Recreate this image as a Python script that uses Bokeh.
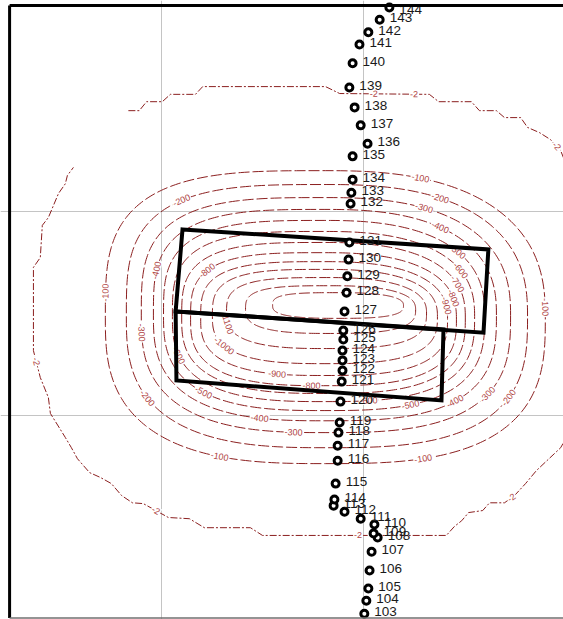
import numpy as np
from bokeh.plotting import figure
from bokeh.models import Range1d, FixedTicker, ColumnDataSource
from bokeh.core.properties import value
from bokeh.embed import file_html
from bokeh.resources import INLINE

# ---------------- data (plan coordinates, m) ----------------
station_ids = [103, 104, 105, 106, 107, 108, 109, 110, 111, 112, 113, 114, 115, 116,
               117, 118, 119, 120, 121, 122, 123, 124, 125, 126, 127, 128, 129, 130,
               131, 132, 133, 134, 135, 136, 137, 138, 139, 140, 141, 142, 143, 144]
station_x = [50.2, 50.7, 51.2, 51.5, 52.0, 53.5, 52.5, 52.7, 49.3, 45.3, 42.6, 42.8, 43.1, 43.6,
             43.6, 43.8, 44.1, 44.3, 44.6, 44.8, 44.8, 44.8, 45.0, 45.0, 45.3, 45.8, 46.0, 46.3,
             46.5, 46.8, 47.0, 47.3, 47.3, 51.0, 49.3, 47.8, 46.5, 47.3, 49.0, 51.2, 54.0, 56.4]
station_y = [-48.7, -45.5, -42.5, -38.1, -33.5, -30.0, -29.0, -26.8, -25.4, -23.7, -22.2, -20.7, -16.8, -11.2,
             -7.5, -4.3, -1.8, 3.3, 8.2, 10.9, 13.4, 15.8, 18.5, 20.7, 25.4, 30.0, 34.0, 38.1,
             42.3, 51.8, 54.5, 57.7, 63.4, 66.5, 71.0, 75.4, 80.3, 86.2, 90.8, 93.8, 96.9, 99.9]

# footprint outlines (corner points)
footing_a_x = [5.2, 80.9, 79.7, 3.5]
footing_a_y = [45.5, 40.6, 20.2, 25.4]
footing_b_x = [3.5, 69.8, 69.3, 3.7]
footing_b_y = [25.4, 21.0, 3.6, 8.5]

# settlement contour levels and their extents
levels = [-100, -200, -300, -400, -500, -600, -700, -800, -900, -1000, -1100, -1200, -1300]
level_left = [-13.9, -8.7, -5.0, -2.0, 0.5, 2.7, 5.0, 7.2, 9.7, 12.6, 16.1, 20.8, 27.5]
level_right = [95.0, 90.6, 86.4, 82.9, 80.0, 77.5, 75.2, 73.0, 70.8, 68.3, 65.6, 62.9, 59.9]
level_top = [59.9, 56.5, 53.3, 50.4, 47.7, 45.0, 42.3, 39.8, 37.6, 35.7, 33.7, 31.7, 30.0]
level_bottom = [-11.9, -8.0, -4.3, -1.4, 1.1, 3.3, 5.3, 7.2, 9.7, 12.6, 16.3, 20.0, 23.7]

# outermost (-2) contour traced as a line
outer_level = -2
outer_x = [-8.2, -5.5, -3.7, 0.2, 2.2, 8.4, 10.2, 40.6, 44.1, 66.3, 68.6, 76.7, 78.7, 82.9,
           84.9, 88.9, 90.6, 93.6, 96.3, 98.8, 103.7, 105.0, 102.5, 98.8, 97.3, 92.8, 90.1,
           87.4, 84.9, 81.2, 79.5, 76.0, 74.3, 72.5, 70.5, 25.0, 22.0, 10.6, 6.9, 1.7, -4.5,
           -7.2, -9.9, -12.4, -15.1, -17.8, -20.8, -22.3, -23.8, -27.5, -28.0, -30.0, -31.7,
           -31.7, -30.0, -29.5, -28.0, -25.5, -23.8, -23.3, -21.8]
outer_y = [74.6, 74.6, 76.8, 76.8, 78.6, 78.6, 80.5, 80.5, 78.8, 78.6, 76.8, 76.8, 74.6, 74.6,
           72.9, 72.9, 70.5, 69.2, 67.5, 64.8, 52.6, 28.1, -1.4, -8.0, -9.4, -13.6, -16.8,
           -19.7, -21.5, -21.5, -23.4, -23.9, -25.9, -27.3, -29.5, -29.5, -27.6, -27.6, -25.4, -25.1, -21.7,
           -21.5, -19.7, -16.8, -15.3, -14.1, -10.7, -8.0, -5.5, 0.4, 4.3, 9.2, 15.8,
           36.2, 38.6, 46.5, 48.4, 54.3, 56.7, 58.7, 60.7]

# ---------------- styling constants ----------------
W, H = 563, 619
X0, X1 = -39.85, 99.5
Y0, Y1 = -50.1, 101.6
SX = W / (X1 - X0)
SY = H / (Y1 - Y0)
FRAME_LEFT, FRAME_TOP, FRAME_BOTTOM = -37.6, 100.4, -49.75
CONTOUR_COLOR = "#8b1f1f"
LABEL_COLOR = "#b04545"
N_TL, N_TR, N_BL, N_BR = 3.3, 2.5, 2.8, 2.9
EDGE_MARGIN = 2.0  # data units: labels closer than this to top edge hang below

# where labels sit on each ring (parameter angle, degrees)
ring_label_params = {
    -100: [177, 69.5, 2, 249, 288],
    -200: [126, 60.7, 330, 211],
    -300: [63, 325.5, 184, 265],
    -400: [52.5, 166, 312, 255],
    -500: [37.5, 294, 228],
    -600: [27.7, 280, 199.5],
    -700: [21.6],
    -800: [13.8, 268, 143.5],
    -900: [9, 255],
    -1000: [211],
    -1100: [190],
}
outer_label_segments = [(8, 0.38), (8, 0.83), (18, 0.6), (51, 0.6), (39, 0.5), (34, 0.48), (27, 0.3)]


def ring_point(l, r, t, b, th):
    cx, cy = (l + r) / 2, (t + b) / 2
    a, bb = (r - l) / 2, (t - b) / 2
    c, s = np.cos(th), np.sin(th)
    n = np.where(s >= 0, np.where(c >= 0, N_TR, N_TL), np.where(c >= 0, N_BR, N_BL))
    x = cx + a * np.sign(c) * np.abs(c) ** (2 / n)
    y = cy + bb * np.sign(s) * np.abs(s) ** (2 / n)
    return x, y


def screen_angle(dx, dy):
    ang = np.arctan2(dy * SY, dx * SX)
    if ang > np.pi / 2:
        ang -= np.pi
    if ang <= -np.pi / 2:
        ang += np.pi
    return ang


p = figure(width=W, height=H, x_range=Range1d(X0, X1), y_range=Range1d(Y0, Y1),
           output_backend="svg", toolbar_location=None, min_border=0,
           x_axis_location=None, y_axis_location=None)
p.outline_line_color = None
p.background_fill_color = "white"
p.border_fill_color = "white"
p.xgrid.ticker = FixedTicker(ticks=[0, 50])
p.ygrid.ticker = FixedTicker(ticks=[0, 50])
p.xgrid.grid_line_color = "#c4c4c4"
p.ygrid.grid_line_color = "#c4c4c4"
p.xgrid.grid_line_width = 1
p.ygrid.grid_line_width = 1

# rings
th = np.linspace(0, 2 * np.pi, 361)
ring_xs, ring_ys = [], []
lab_x, lab_y, lab_t, lab_a = [], [], [], []
for lv, l, r, t, b in zip(levels, level_left, level_right, level_top, level_bottom):
    x, y = ring_point(l, r, t, b, th)
    ring_xs.append(list(x))
    ring_ys.append(list(y))
    for deg in ring_label_params.get(lv, []):
        tt = np.radians(deg)
        x0, y0 = ring_point(l, r, t, b, tt)
        x1, y1 = ring_point(l, r, t, b, tt + 0.01)
        lab_x.append(float(x0))
        lab_y.append(float(y0))
        lab_t.append(str(lv))
        lab_a.append(float(screen_angle(x1 - x0, y1 - y0)))

p.multi_line(ring_xs, ring_ys, line_color=CONTOUR_COLOR, line_width=1, line_dash="11 3")
p.line(outer_x, outer_y, line_color=CONTOUR_COLOR, line_width=1, line_dash="7 2 2 2")

for seg, frac in outer_label_segments:
    xa, ya = outer_x[seg], outer_y[seg]
    xb, yb = outer_x[seg + 1], outer_y[seg + 1]
    lab_x.append(xa + frac * (xb - xa))
    lab_y.append(ya + frac * (yb - ya))
    lab_t.append(str(outer_level))
    lab_a.append(float(screen_angle(xb - xa, yb - ya)))

lab_src = ColumnDataSource(dict(x=lab_x, y=lab_y, text=lab_t, angle=lab_a))
p.text(x="x", y="y", text="text", angle="angle", source=lab_src,
       text_font=value("Liberation Sans"), text_font_size="9px", text_color=LABEL_COLOR,
       text_align="center", text_baseline="middle",
       background_fill_color="white", padding=1)

# footprints
p.patches([footing_a_x, footing_b_x], [footing_a_y, footing_b_y],
          fill_color=None, line_color="black", line_width=4, line_join="miter")

# stations
baselines = ["top" if y > Y1 - EDGE_MARGIN else "middle" for y in station_y]
st_src = ColumnDataSource(dict(x=station_x, y=station_y,
                               name=[str(s) for s in station_ids], base=baselines))
p.scatter(x="x", y="y", source=st_src, size=7, marker="circle",
          fill_color="white", line_color="black", line_width=3)
p.text(x="x", y="y", text="name", source=st_src, x_offset=10, y_offset=-2,
       text_font=value("Liberation Sans"), text_font_size="13.5px", text_color="#1a1a1a",
       text_align="left", text_baseline="base")

# frame lines (left / top thick, bottom thin grey)
p.line([FRAME_LEFT, FRAME_LEFT], [FRAME_BOTTOM, FRAME_TOP], line_color="black", line_width=3)
p.line([FRAME_LEFT, X1], [FRAME_TOP, FRAME_TOP], line_color="black", line_width=3)
p.line([FRAME_LEFT, X1], [FRAME_BOTTOM, FRAME_BOTTOM], line_color="#707070", line_width=1.5)

open("out.html", "w").write(file_html(p, INLINE))
